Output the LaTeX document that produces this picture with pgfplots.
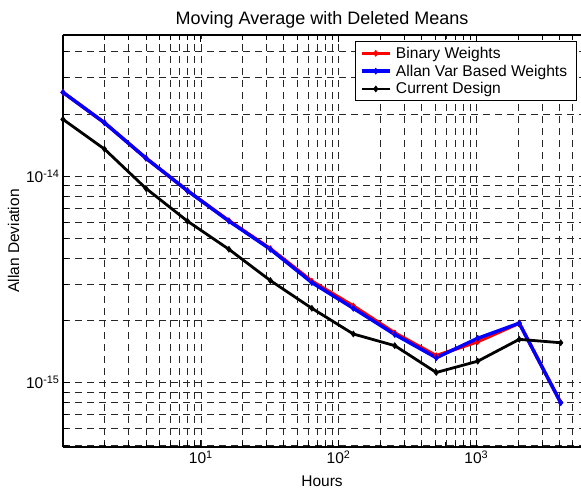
\documentclass[border=0pt]{standalone}
\usepackage{fontspec}
\setmainfont{Liberation Sans}
\usepackage{pgfplots}
\pgfplotsset{compat=1.18}

\begin{document}
\begin{tikzpicture}
\begin{axis}[
  name=ax,
  scale only axis,
  width=518pt, height=412pt,
  xmode=log, ymode=log,
  xmin=1, xmax=5750,
  ymin=4.88e-16, ymax=4.81e-14,
  axis x line=box, axis y line=left,
  axis line style={-, line width=1.1pt, black},
  tick align=inside,
  major tick length=7pt, minor tick length=5pt,
  tick style={black, line width=0.6pt},
  xtick={10,100,1000},
  xticklabels={10\textsuperscript{1},10\textsuperscript{2},10\textsuperscript{3}},
  minor xtick={2,3,4,5,6,7,8,9,20,30,40,50,60,70,80,90,200,300,400,500,600,700,800,900,2000,3000,4000,5000},
  ytick={1e-15,1e-14},
  yticklabels={10\textsuperscript{-15},10\textsuperscript{-14}},
  minor ytick={5e-16,6e-16,7e-16,8e-16,9e-16,2e-15,3e-15,4e-15,5e-15,6e-15,7e-15,8e-15,9e-15,2e-14,3e-14,4e-14},
  grid=both,
  major grid style={black!85, line width=0.5pt, dash pattern=on 7pt off 5pt},
  minor grid style={black!85, line width=0.5pt, dash pattern=on 7pt off 5pt},
  ticklabel style={font=\fontsize{15.5}{18}\selectfont},
  label style={font=\fontsize{15.5}{18}\selectfont},
  xlabel={Hours},
  xlabel style={yshift=-5pt},
  ylabel={Allan Deviation},
  title={Moving Average with Deleted Means},
  title style={font=\fontsize{18}{21}\selectfont, yshift=-3pt},
  legend cell align=left,
  legend style={at={(axis description cs:1,1)}, anchor=north east, xshift=-4pt, yshift=-6pt,
    draw=black, line width=0.8pt, fill=white,
    font=\fontsize{15.6}{18}\selectfont,
    inner xsep=5pt, inner ysep=3pt, row sep=0pt,
    nodes={inner xsep=4.5pt, inner ysep=2.5pt}},
  legend image code/.code={\draw[#1, mark repeat=2, mark phase=2] plot coordinates {(0pt,0pt) (14pt,0pt) (28pt,0pt)};},
  every axis plot/.append style={line width=3.4pt, mark=diamond*, mark size=3pt, mark options={solid, line width=0.6pt}},
]
\addplot[red] coordinates {
(1,2.54e-14) (2,1.81e-14) (4,1.22e-14) (8,8.49e-15) (16,6.08e-15) (32,4.45e-15)
(64,3.10e-15) (128,2.35e-15) (256,1.74e-15) (512,1.35e-15) (1024,1.58e-15)
(2048,1.94e-15) (4096,8.0e-16)};
\addlegendentry{Binary Weights}
\addplot[blue] coordinates {
(1,2.54e-14) (2,1.81e-14) (4,1.22e-14) (8,8.49e-15) (16,6.05e-15) (32,4.42e-15)
(64,3.05e-15) (128,2.29e-15) (256,1.71e-15) (512,1.32e-15) (1024,1.64e-15)
(2048,1.94e-15) (4096,8.0e-16)};
\addlegendentry{Allan Var Based Weights}
\addplot[black, line width=2.8pt] coordinates {
(1,1.88e-14) (2,1.35e-14) (4,8.71e-15) (8,6.05e-15) (16,4.42e-15) (32,3.12e-15)
(64,2.29e-15) (128,1.72e-15) (256,1.51e-15) (512,1.12e-15) (1024,1.27e-15)
(2048,1.62e-15) (4096,1.56e-15)};
\addlegendentry{Current Design}
\end{axis}
\pgfresetboundingbox
\path[use as bounding box] ([xshift=-63pt,yshift=-45pt]ax.south west) rectangle ([yshift=35pt]ax.north east);
\end{tikzpicture}
\end{document}
